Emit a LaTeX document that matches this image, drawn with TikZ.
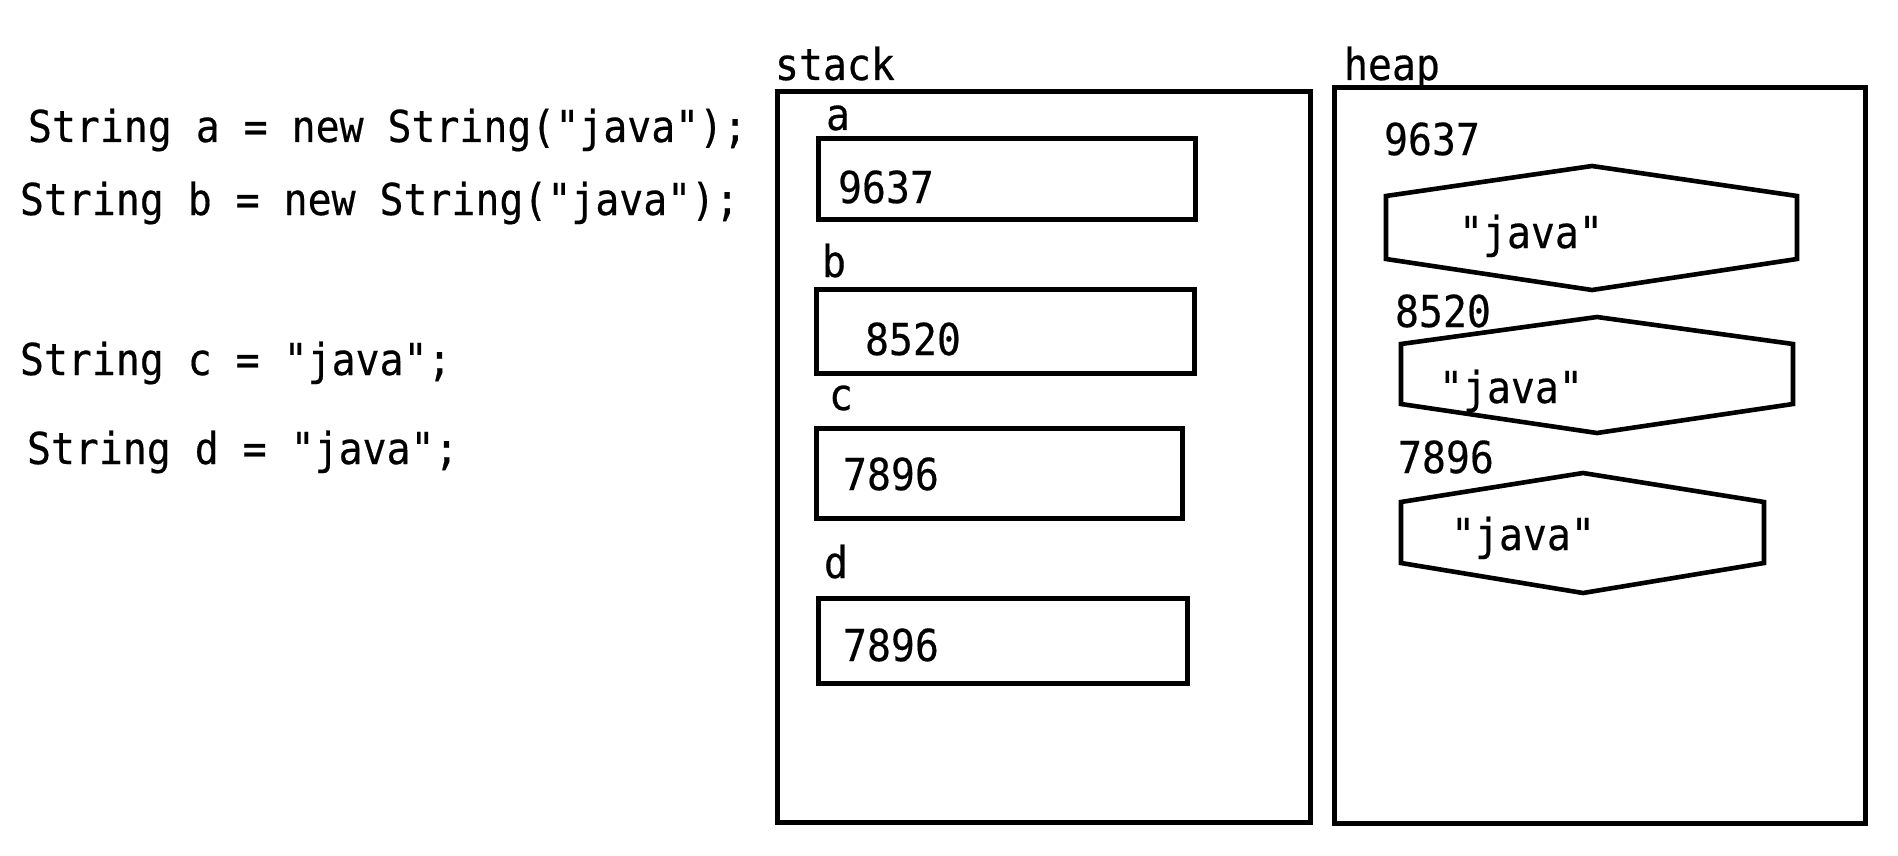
\documentclass[tikz,border=0pt]{standalone}
\usepackage{fontspec}
\newfontfamily\codefont[FakeStretch=0.905,FakeBold=0.4]{DejaVu Sans Mono}
\begin{document}
\begin{tikzpicture}[x=1pt,y=-1pt,
  txt/.style={anchor=base west, inner sep=0pt, outer sep=0pt, font=\codefont\fontsize{44}{50}\selectfont},
  frame/.style={draw=black, line width=5pt},
  cell/.style={draw=black, line width=5pt},
  hexa/.style={draw=black, line width=4.6pt, line join=miter}]
\useasboundingbox[fill=white] (0,0) rectangle (1898,856);

% code lines
\node[txt] (la) at (28,142) {String a = new String("java");};
\node[txt] (lb) at (20,215) {String b = new String("java");};
\node[txt] (lc) at (20,375) {String c = "java";};
\node[txt] (ld) at (27,464) {String d = "java";};

% stack
\node[txt] (stacklbl) at (775,80) {stack};
\draw[frame] (777.5,92) rectangle (1310,822);
\node[txt] (na) at (826,130) {a};
\draw[cell] (818.5,139) rectangle (1195,219);
\node[txt] (va) at (838,203) {9637};
\node[txt] (nb) at (822,277) {b};
\draw[cell] (816,289) rectangle (1194,373);
\node[txt] (vb) at (865,355) {8520};
\node[txt] (nc) at (829,410) {c};
\draw[cell] (816,428) rectangle (1182,518);
\node[txt] (vc) at (843,490) {7896};
\node[txt] (nd) at (824,578) {d};
\draw[cell] (818,598) rectangle (1187,683);
\node[txt] (vd) at (843,661) {7896};

% heap
\node[txt] (heaplbl) at (1344,80) {heap};
\draw[frame] (1334,88) rectangle (1865,823);
\node[txt] (h1) at (1384,155) {9637};
\draw[hexa] (1386,196) -- (1592,166) -- (1797,196) -- (1797,259) -- (1592,290) -- (1386,259) -- cycle;
\node[txt] (j1) at (1459,248) {"java"};
\node[txt] (h2) at (1395,327) {8520};
\draw[hexa] (1401,344) -- (1597,317) -- (1793,344) -- (1793,404) -- (1597,433) -- (1401,404) -- cycle;
\node[txt] (j2) at (1439,403) {"java"};
\node[txt] (h3) at (1398,473) {7896};
\draw[hexa] (1401,502) -- (1583,473) -- (1764,502) -- (1764,563) -- (1583,593) -- (1401,563) -- cycle;
\node[txt] (j3) at (1451,550) {"java"};
\end{tikzpicture}
\end{document}
